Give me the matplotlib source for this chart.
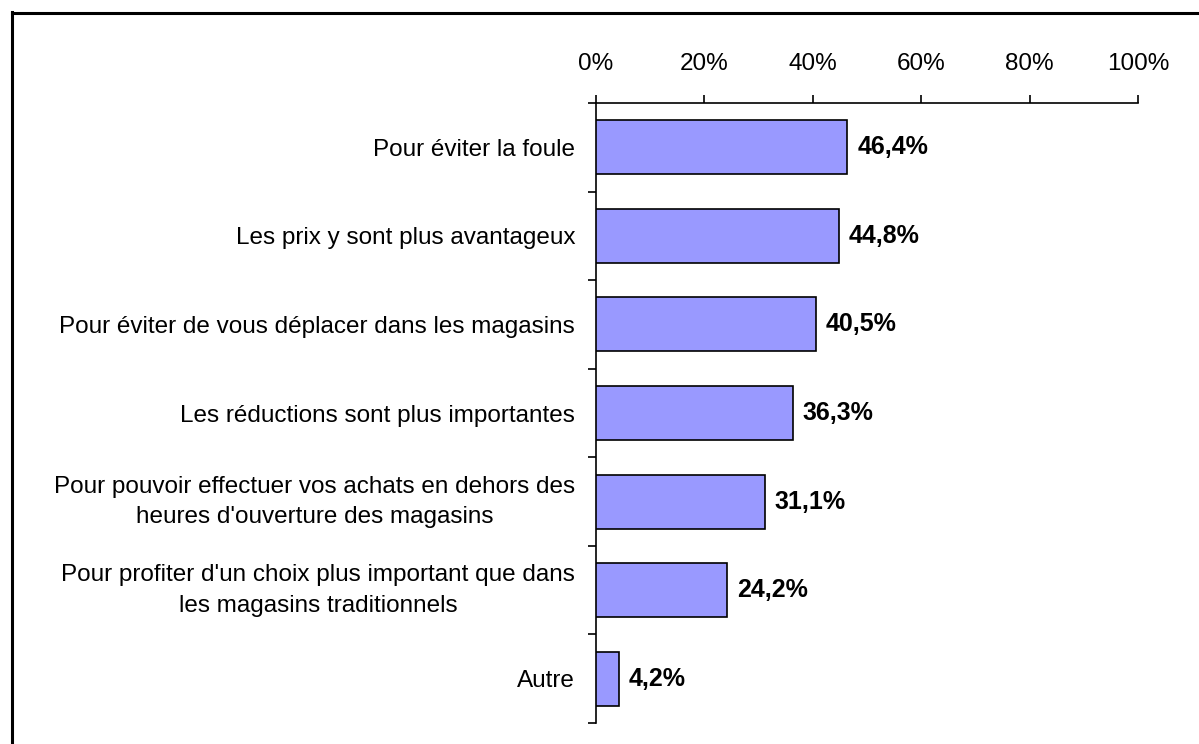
import matplotlib
matplotlib.use("Agg")
import matplotlib.pyplot as plt
from matplotlib.lines import Line2D
from matplotlib.ticker import FixedLocator, NullFormatter

plt.rcParams['font.family'] = ['Liberation Sans', 'DejaVu Sans']

categories = [
    "Pour éviter la foule",
    "Les prix y sont plus avantageux",
    "Pour éviter de vous déplacer dans les magasins",
    "Les réductions sont plus importantes",
    "Pour pouvoir effectuer vos achats en dehors des\nheures d'ouverture des magasins",
    "Pour profiter d'un choix plus important que dans\nles magasins traditionnels",
    "Autre",
]
values = [46.4, 44.8, 40.5, 36.3, 31.1, 24.2, 4.2]
value_labels = ["46,4%", "44,8%", "40,5%", "36,3%", "31,1%", "24,2%", "4,2%"]
xticks = [0, 20, 40, 60, 80, 100]
xtick_labels = ["0%", "20%", "40%", "60%", "80%", "100%"]

W, H = 1199, 744
fig = plt.figure(figsize=(W / 100, H / 100), dpi=100)
ax = fig.add_axes([596 / W, 1 - 723 / H, (1138 - 596) / W, (723 - 103) / H])

n = len(categories)
ypos = list(range(n))
ax.barh(ypos, values, height=0.61, color="#9999FF", edgecolor="black", linewidth=1.2, zorder=3)
ax.set_ylim(n - 0.5, -0.5)
ax.set_xlim(0, 100)

for y, v, lab in zip(ypos, values, value_labels):
    ax.annotate(lab, (v, y), xytext=(7, 0), textcoords="offset points",
                ha="left", va="center", fontsize=18, fontweight="bold")

ax.xaxis.tick_top()
ax.set_xticks(xticks)
ax.set_xticklabels(xtick_labels, fontsize=17.5)
ax.tick_params(axis="x", direction="out", length=6, width=1.2, pad=14)

# category labels: multi-line labels sit slightly higher in the reference
label_pos = [y - (0.07 if "\n" in c else 0.0) for y, c in zip(ypos, categories)]
ax.set_yticks(label_pos)
ax.set_yticklabels(categories, fontsize=17.5, multialignment="center", linespacing=1.5)
ax.tick_params(axis="y", which="major", length=0, pad=15)
ax.yaxis.set_minor_locator(FixedLocator([i - 0.5 for i in range(n + 1)]))
ax.yaxis.set_minor_formatter(NullFormatter())
ax.tick_params(axis="y", which="minor", direction="out", length=6, width=1.2)

for s in ["right", "bottom"]:
    ax.spines[s].set_visible(False)
for s in ["top", "left"]:
    ax.spines[s].set_linewidth(1.2)

# outer frame (left and top edges visible)
fig.add_artist(Line2D([11.5 / W, 11.5 / W], [0, 1 - 11.5 / H], color="black", linewidth=2.2))
fig.add_artist(Line2D([11.5 / W, 1], [1 - 12.5 / H, 1 - 12.5 / H], color="black", linewidth=2.2))

fig.savefig("out.png", dpi=100)
